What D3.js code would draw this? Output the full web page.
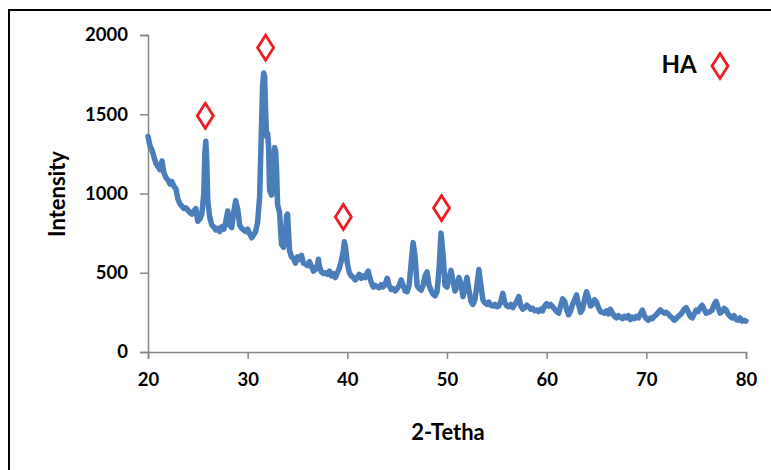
<!DOCTYPE html>
<html>
<head>
<meta charset="utf-8">
<script src="https://cdn.jsdelivr.net/npm/d3@7"></script>
<style>
  html, body { margin: 0; padding: 0; background: #fff; }
  svg { display: block; }
  text { font-family: Lato, "Open Sans", "Liberation Sans", sans-serif; font-weight: bold; fill: #000; }
</style>
</head>
<body>
<svg id="chart" width="771" height="470"></svg>
<script>
// ---- data ----
const twoTheta = [
  20.0,20.2,20.4,20.6,20.8,21.0,21.2,21.4,21.6,21.8,22.0,22.2,22.4,22.6,22.8,23.0,23.2,23.4,23.6,23.8,
  24.0,24.2,24.4,24.6,24.8,25.0,25.2,25.4,25.6,25.7,25.8,25.9,26.0,26.2,26.4,26.6,26.8,27.0,27.2,27.4,
  27.6,27.8,28.0,28.2,28.4,28.6,28.8,29.0,29.2,29.4,29.6,29.8,30.0,30.2,30.4,30.6,30.8,31.0,31.2,31.4,
  31.5,31.6,31.7,31.8,31.9,32.0,32.1,32.2,32.4,32.6,32.7,32.8,32.9,33.0,33.2,33.4,33.6,33.8,33.9,34.0,
  34.1,34.2,34.4,34.6,34.8,35.0,35.2,35.4,35.6,35.8,36.0,36.2,36.4,36.6,36.8,37.0,37.1,37.2,37.4,37.6,
  37.8,38.0,38.2,38.4,38.6,38.8,39.0,39.2,39.4,39.6,39.7,39.8,40.0,40.2,40.4,40.6,40.8,41.0,41.2,41.4,
  41.6,41.8,42.0,42.1,42.2,42.4,42.6,42.8,43.0,43.2,43.4,43.6,43.8,44.0,44.2,44.4,44.6,44.8,45.0,45.2,
  45.4,45.6,45.8,46.0,46.2,46.4,46.6,46.8,47.0,47.2,47.4,47.6,47.8,48.0,48.2,48.4,48.6,48.8,49.0,49.2,
  49.4,49.6,49.8,50.0,50.2,50.4,50.6,50.8,51.0,51.2,51.4,51.6,51.8,52.0,52.2,52.4,52.6,52.8,53.0,53.2,
  53.4,53.6,53.8,54.0,54.2,54.4,54.6,54.8,55.0,55.2,55.4,55.6,55.8,56.0,56.2,56.4,56.6,56.8,57.0,57.2,
  57.4,57.6,57.8,58.0,58.2,58.4,58.6,58.8,59.0,59.2,59.4,59.6,59.8,60.0,60.2,60.4,60.6,60.8,61.0,61.2,
  61.4,61.6,61.8,62.0,62.2,62.4,62.6,62.8,63.0,63.2,63.4,63.6,63.8,64.0,64.2,64.4,64.6,64.8,65.0,65.2,
  65.4,65.6,65.8,66.0,66.2,66.4,66.6,66.8,67.0,67.2,67.4,67.6,67.8,68.0,68.2,68.4,68.6,68.8,69.0,69.2,
  69.4,69.6,69.8,70.0,70.2,70.4,70.6,70.8,71.0,71.2,71.4,71.6,71.8,72.0,72.2,72.4,72.6,72.8,73.0,73.2,
  73.4,73.6,73.8,74.0,74.2,74.4,74.6,74.8,75.0,75.2,75.4,75.6,75.8,76.0,76.2,76.4,76.6,76.8,77.0,77.2,
  77.4,77.6,77.8,78.0,78.2,78.4,78.6,78.8,79.0,79.2,79.4,79.6,79.8,80.0
];
const intensity = [
  1360,1300,1275,1230,1190,1170,1150,1205,1130,1100,1085,1060,1075,1045,1030,965,935,920,905,910,
  895,880,870,890,905,825,840,870,1000,1250,1330,1200,950,850,800,790,770,780,760,790,
  775,820,890,800,785,880,955,900,800,780,770,760,775,745,720,740,760,820,980,1450,
  1680,1760,1740,1520,1360,1380,1300,1020,990,1200,1290,1270,1150,930,880,680,660,740,860,870,
  760,640,600,590,560,600,585,610,560,555,545,570,540,510,520,550,585,540,505,495,
  500,490,510,480,495,470,500,530,575,640,695,670,560,500,480,470,455,470,490,465,
  480,470,500,510,480,440,410,420,410,405,425,410,430,465,420,395,400,385,400,420,
  455,420,385,380,420,560,690,600,420,400,390,420,480,505,420,390,365,355,380,520,
  750,620,420,410,470,515,450,385,410,470,430,350,400,470,390,320,300,330,420,520,
  420,330,310,300,315,295,290,300,285,290,320,370,310,290,285,300,280,300,320,350,
  290,270,280,295,285,270,275,260,265,255,270,260,290,305,290,300,285,270,255,245,
  290,335,320,270,235,260,300,330,360,300,250,270,330,380,340,290,300,330,315,280,
  255,250,245,260,240,270,245,225,215,230,220,210,225,215,230,205,220,210,225,215,
  240,265,230,210,200,215,210,225,235,250,265,255,245,250,240,225,215,200,210,225,
  235,250,270,280,255,225,215,240,265,255,280,295,270,245,250,255,265,300,320,280,
  245,255,275,265,240,225,215,230,205,200,215,195,200,195
];
const peakTheta = [25.75, 31.8, 39.6, 49.45];
const peakMarkY = [1490, 1920, 852, 908];
const xTicks = [20, 30, 40, 50, 60, 70, 80];
const yTicks = [0, 500, 1000, 1500, 2000];
const legendLabel = "HA";
const xTitle = "2-Tetha";
const yTitle = "Intensity";

// ---- drawing ----
const svg = d3.select("#chart");
const L = 148, R = 746, T = 35, B = 352;
const x = d3.scaleLinear().domain([20, 80]).range([L, R]);
const y = d3.scaleLinear().domain([0, 2000]).range([B, T]);

// outer frame
svg.append("rect").attr("x", 9).attr("y", 10).attr("width", 800).attr("height", 500)
  .attr("fill", "none").attr("stroke", "#000").attr("stroke-width", 2);

const axisColor = "#868686";
const xAxis = svg.append("g").attr("transform", `translate(0,${B})`)
  .call(d3.axisBottom(x).tickValues(xTicks).tickSize(7).tickPadding(14).tickFormat(d3.format("d")));
const yAxis = svg.append("g").attr("transform", `translate(${L},0)`)
  .call(d3.axisLeft(y).tickValues(yTicks).tickSize(8).tickPadding(12).tickFormat(d3.format("d")));
[xAxis, yAxis].forEach(g => {
  g.select(".domain").attr("stroke", axisColor).attr("stroke-width", 1.5);
  g.selectAll(".tick line").attr("stroke", axisColor).attr("stroke-width", 1.5);
  g.selectAll(".tick text").attr("font-size", 18.5).attr("font-family", "Lato, 'Open Sans', sans-serif")
    .attr("font-weight", "bold").attr("fill", "#000");
});

// data line
const data = twoTheta.map((t, i) => [t, intensity[i]]);
svg.append("path").datum(data)
  .attr("fill", "none").attr("stroke", "#4a7ebb").attr("stroke-width", 5.5)
  .attr("stroke-linejoin", "round").attr("stroke-linecap", "round")
  .attr("d", d3.line().x(d => x(d[0])).y(d => y(d[1])));

// diamond marker shape
const dw = 8, dh = 12.5;
const diamond = `M0,${-dh}L${dw},0L0,${dh}L${-dw},0Z`;
svg.selectAll(".pk").data(peakTheta).join("path").attr("class", "pk")
  .attr("d", diamond)
  .attr("transform", (d, i) => `translate(${x(d)},${y(peakMarkY[i])})`)
  .attr("fill", "#fff").attr("stroke", "#ee1c25").attr("stroke-width", 2.8);

// legend text box
svg.append("text").attr("x", 679).attr("y", 73).attr("text-anchor", "middle")
  .attr("font-size", 24).text(legendLabel);
svg.append("path").attr("d", diamond).attr("transform", "translate(720,66)")
  .attr("fill", "#fff").attr("stroke", "#ee1c25").attr("stroke-width", 2.8);

// axis titles
svg.append("text").attr("x", 448).attr("y", 440).attr("text-anchor", "middle")
  .attr("font-size", 22).text(xTitle);
svg.append("text").attr("transform", "translate(65,194) rotate(-90)").attr("text-anchor", "middle")
  .attr("font-size", 22).text(yTitle);
</script>
</body>
</html>
